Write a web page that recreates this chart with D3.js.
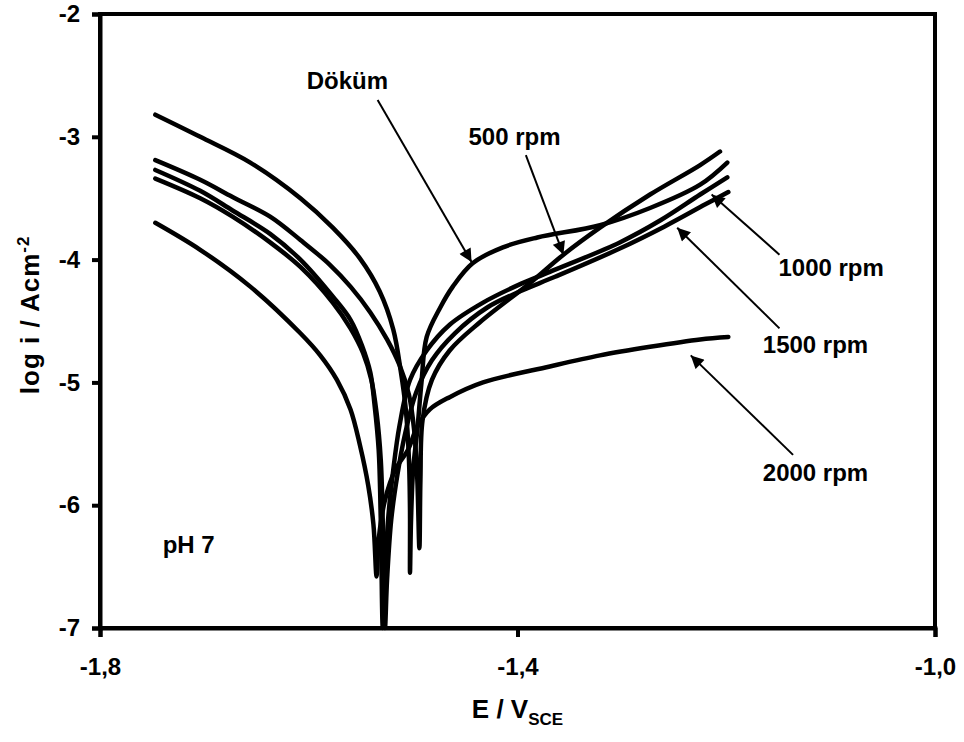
<!DOCTYPE html>
<html>
<head>
<meta charset="utf-8">
<script src="https://cdn.jsdelivr.net/npm/d3@7"></script>
<style>
  body { margin: 0; background: #fff; }
  text { font-family: Arial, "Liberation Sans", sans-serif; font-weight: bold; fill: #000; }
</style>
</head>
<body>
<svg id="chart" width="964" height="742"></svg>
<script>
// potential (V vs SCE) and log current density
var dokum = [
  [-1.747, -2.82], [-1.704, -3.00], [-1.656, -3.21], [-1.608, -3.50], [-1.577, -3.74],
  [-1.551, -3.99], [-1.532, -4.26], [-1.519, -4.57], [-1.512, -4.90], [-1.507, -5.22],
  [-1.504, -5.63], [-1.503, -6.04], [-1.503, -6.55],
  [-1.502, -6.12], [-1.500, -5.71], [-1.496, -5.39], [-1.492, -5.00], [-1.487, -4.63],
  [-1.474, -4.39], [-1.462, -4.22], [-1.443, -4.03], [-1.414, -3.90], [-1.381, -3.82],
  [-1.321, -3.72], [-1.273, -3.58], [-1.225, -3.39], [-1.199, -3.21]
];
var rpm500 = [
  [-1.747, -3.19], [-1.704, -3.35], [-1.673, -3.49], [-1.637, -3.65], [-1.608, -3.84],
  [-1.580, -4.04], [-1.560, -4.22], [-1.541, -4.43], [-1.525, -4.65], [-1.513, -4.86],
  [-1.504, -5.10], [-1.499, -5.39], [-1.496, -5.79], [-1.494, -6.35],
  [-1.493, -5.79], [-1.491, -5.31], [-1.482, -4.98], [-1.465, -4.74], [-1.436, -4.51],
  [-1.388, -4.19], [-1.356, -3.96], [-1.321, -3.74], [-1.273, -3.47], [-1.225, -3.23],
  [-1.206, -3.12]
];
var rpm1000 = [
  [-1.747, -3.27], [-1.704, -3.44], [-1.673, -3.60], [-1.637, -3.79], [-1.608, -4.00],
  [-1.577, -4.30], [-1.560, -4.49], [-1.549, -4.70], [-1.541, -4.92], [-1.537, -5.18],
  [-1.533, -5.55], [-1.531, -6.12], [-1.529, -7.00],
  [-1.527, -6.61], [-1.524, -6.12], [-1.519, -5.71], [-1.513, -5.35], [-1.503, -4.98],
  [-1.487, -4.74], [-1.465, -4.53], [-1.433, -4.35], [-1.400, -4.21], [-1.369, -4.10],
  [-1.302, -3.86], [-1.263, -3.68], [-1.225, -3.47], [-1.199, -3.33]
];
var rpm1500 = [
  [-1.747, -3.34], [-1.704, -3.50], [-1.673, -3.65], [-1.637, -3.86], [-1.608, -4.06],
  [-1.577, -4.35], [-1.560, -4.56], [-1.548, -4.76], [-1.540, -4.98], [-1.535, -5.25],
  [-1.531, -5.63], [-1.529, -6.16], [-1.527, -7.00],
  [-1.525, -6.61], [-1.521, -6.12], [-1.515, -5.75], [-1.508, -5.43], [-1.497, -5.08],
  [-1.482, -4.82], [-1.460, -4.60], [-1.429, -4.39], [-1.398, -4.26], [-1.364, -4.14],
  [-1.302, -3.91], [-1.259, -3.73], [-1.220, -3.55], [-1.198, -3.45]
];
var rpm2000 = [
  [-1.747, -3.70], [-1.704, -3.92], [-1.656, -4.22], [-1.608, -4.60], [-1.589, -4.78],
  [-1.573, -4.98], [-1.560, -5.22], [-1.551, -5.51], [-1.543, -5.84], [-1.538, -6.16],
  [-1.535, -6.58],
  [-1.533, -6.28], [-1.527, -5.96], [-1.517, -5.71], [-1.505, -5.55], [-1.496, -5.36],
  [-1.484, -5.22], [-1.465, -5.12], [-1.433, -5.00], [-1.369, -4.87], [-1.321, -4.78],
  [-1.273, -4.71], [-1.225, -4.65], [-1.198, -4.63]
];

var xTicks = [-1.8, -1.4, -1.0];
var yTicks = [-2, -3, -4, -5, -6, -7];

// label text, label anchor, arrow tail, arrow tip (all in data units)
var labels = ["Döküm", "500 rpm", "1000 rpm", "1500 rpm", "2000 rpm"];
var labelPos = [[-1.602, -2.61], [-1.447, -3.07], [-1.150, -4.13], [-1.165, -4.76], [-1.165, -5.80]];
var arrowTail = [[-1.534, -2.70], [-1.392, -3.15], [-1.149, -3.96], [-1.149, -4.56], [-1.136, -5.59]];
var arrowTip = [[-1.444, -4.02], [-1.356, -3.96], [-1.214, -3.47], [-1.247, -3.74], [-1.234, -4.78]];

var margin = {top: 14, right: 29, bottom: 114, left: 100};
var svg = d3.select("#chart");
var width = 964 - margin.left - margin.right,
    height = 742 - margin.top - margin.bottom;

var g = svg.append("g").attr("transform", "translate(" + margin.left + "," + margin.top + ")");

var x = d3.scaleLinear().domain([-1.8, -1.0]).range([0, width]);
var y = d3.scaleLinear().domain([-7, -2]).range([height, 0]);

svg.append("defs").append("marker")
    .attr("id", "head")
    .attr("viewBox", "0 0 10 10")
    .attr("refX", 10).attr("refY", 5)
    .attr("markerWidth", 7).attr("markerHeight", 6.5)
    .attr("markerUnits", "strokeWidth")
    .attr("orient", "auto")
  .append("path")
    .attr("d", "M0,0 L10,5 L0,10 z")
    .attr("fill", "#000");

// frame
g.append("rect")
    .attr("width", width).attr("height", height)
    .attr("fill", "none").attr("stroke", "#000").attr("stroke-width", 4);

var line = d3.line()
    .x(function(d) { return x(d[0]); })
    .y(function(d) { return y(d[1]); })
    .curve(d3.curveCatmullRom.alpha(0.5));

g.append("g").selectAll("path")
  .data([dokum, rpm500, rpm1000, rpm1500, rpm2000])
  .enter().append("path")
    .attr("d", line)
    .attr("fill", "none")
    .attr("stroke", "#000")
    .attr("stroke-width", 4.5)
    .attr("stroke-linecap", "round")
    .attr("stroke-linejoin", "round");

// axes
var yAxis = d3.axisLeft(y).tickValues(yTicks).tickSize(8).tickPadding(12)
    .tickFormat(function(d) { return String(d); });
var xAxis = d3.axisBottom(x).tickValues(xTicks).tickSize(9).tickPadding(21)
    .tickFormat(function(d) { return d.toFixed(1).replace(".", ","); });

var ya = g.append("g").call(yAxis);
var xa = g.append("g").attr("transform", "translate(0," + height + ")").call(xAxis);
[ya, xa].forEach(function(a) {
  a.select(".domain").attr("stroke-width", 4);
  a.selectAll(".tick line").attr("stroke-width", 4);
  a.selectAll(".tick text").style("font-size", "24px").style("font-family", "Arial, 'Liberation Sans', sans-serif").style("font-weight", "bold");
});

// arrows and labels
g.append("g").selectAll("line")
  .data(labels)
  .enter().append("line")
    .attr("x1", function(d, i) { return x(arrowTail[i][0]); })
    .attr("y1", function(d, i) { return y(arrowTail[i][1]); })
    .attr("x2", function(d, i) { return x(arrowTip[i][0]); })
    .attr("y2", function(d, i) { return y(arrowTip[i][1]); })
    .attr("stroke", "#000")
    .attr("stroke-width", 2)
    .attr("marker-end", "url(#head)");

g.append("g").selectAll("text")
  .data(labels)
  .enter().append("text")
    .attr("x", function(d, i) { return x(labelPos[i][0]); })
    .attr("y", function(d, i) { return y(labelPos[i][1]); })
    .style("font-size", "24px")
    .text(function(d) { return d; });

g.append("text")
    .attr("x", x(-1.740)).attr("y", y(-6.39))
    .style("font-size", "24px")
    .text("pH 7");

// axis titles
var xt = svg.append("text")
    .attr("x", margin.left + x(-1.4)).attr("y", 718)
    .attr("text-anchor", "middle")
    .style("font-size", "26px");
xt.append("tspan").text("E / V");
xt.append("tspan").attr("dy", 7).style("font-size", "17px").text("SCE");

var yt = svg.append("text")
    .attr("transform", "translate(39," + (margin.top + y(-4.45)) + ") rotate(-90)")
    .attr("text-anchor", "middle")
    .style("font-size", "26px")
    .style("letter-spacing", "1px");
yt.append("tspan").text("log i / Acm");
yt.append("tspan").attr("dy", -10).style("font-size", "17px").text("-2");
</script>
</body>
</html>
